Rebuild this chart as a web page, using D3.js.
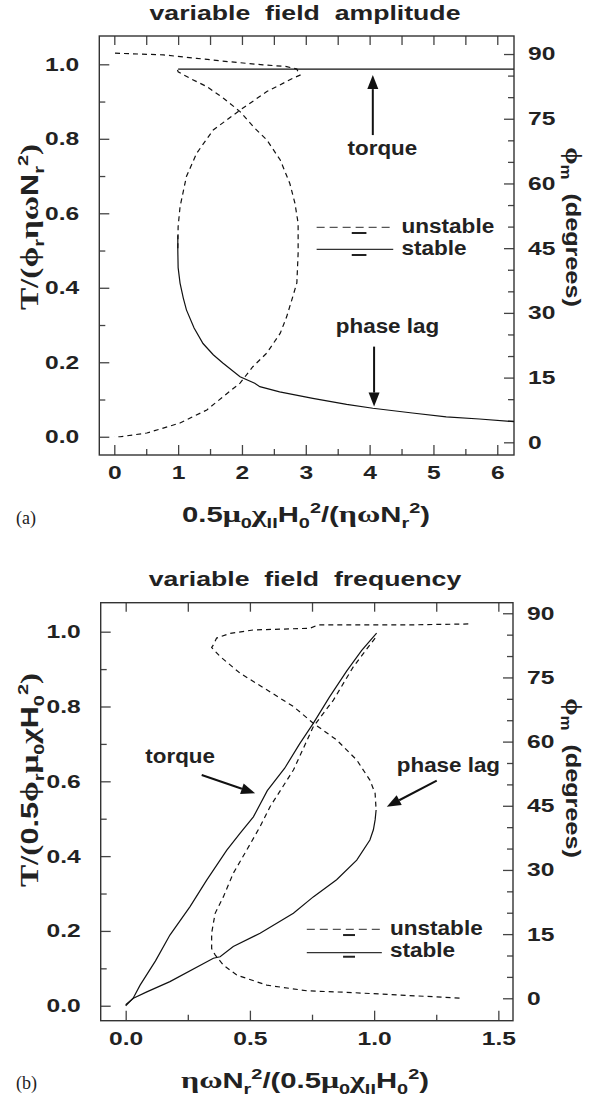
<!DOCTYPE html>
<html>
<head>
<meta charset="utf-8">
<script src="https://cdnjs.cloudflare.com/ajax/libs/d3/7.8.5/d3.min.js"></script>
<style>
  body { margin: 0; background: #fff; }
  text { font-family: "Liberation Sans", Arial, sans-serif; font-weight: bold; fill: #222; }
</style>
</head>
<body>
<div id="chart"></div>
<script>
// ---- data ----
// panel (a): x = 0.5 mu0 chi H0^2 / (eta omega Nr^2)
var ampTorqueStable = [[1.0,0.987],[2.0,0.987],[3.0,0.987],[4.0,0.987],[5.0,0.987],[6.26,0.987]];
var ampTorqueUnstable = [[0.99,0.985],[1.0,0.980],[1.19,0.962],[1.45,0.940],[1.71,0.909],[1.97,0.873],
    [2.18,0.832],[2.39,0.797],[2.60,0.743],[2.75,0.680],[2.83,0.627],[2.88,0.573],[2.88,0.493],
    [2.86,0.413],[2.78,0.367],[2.70,0.322],[2.60,0.278],[2.39,0.225],[2.17,0.188],[1.97,0.144],
    [1.70,0.107],[1.45,0.072],[1.03,0.037],[0.51,0.01],[0.09,0.0],[0.0,0.0]];
var ampPhaseStable = [[0.995,48.0],[0.995,44.5],[1.0,40.5],[1.03,36.9],[1.08,33.5],[1.13,30.7],
    [1.25,26.5],[1.39,22.9],[1.55,20.3],[1.70,18.4],[1.97,15.2],[2.20,13.7],[2.28,12.9],[2.59,11.7],
    [3.11,10.2],[3.64,8.8],[4.05,7.9],[4.67,6.8],[5.20,5.9],[5.72,5.4],[6.26,4.8]];
var ampPhaseUnstable = [[0.995,45],[1.0,50],[1.03,54.6],[1.13,61.6],[1.29,67.0],[1.55,72.4],[1.97,77.0],
    [2.39,81.3],[2.80,84.4],[2.91,85.1],[2.88,85.9],[2.86,86.5],[2.70,87.1],[2.33,87.5],[1.81,88.2],
    [1.29,89.0],[0.77,89.8],[0.0,90.2]];

// panel (b): x = eta omega Nr^2 / (0.5 mu0 chi H0^2)
var freqTorqueStable = [[0.0,0.0],[0.03,0.02],[0.058,0.055],[0.12,0.12],[0.178,0.189],[0.259,0.265],
    [0.326,0.336],[0.407,0.416],[0.46,0.461],[0.514,0.505],[0.57,0.575],[0.64,0.635],[0.70,0.70],
    [0.755,0.755],[0.82,0.825],[0.89,0.895],[0.95,0.95],[1.01,0.996]];
var freqTorqueUnstable = [[1.004,0.983],[0.916,0.906],[0.836,0.817],[0.755,0.746],[0.675,0.630],
    [0.581,0.532],[0.541,0.479],[0.487,0.416],[0.433,0.354],[0.393,0.291],[0.360,0.247],[0.346,0.194],
    [0.346,0.153],[0.360,0.136],[0.393,0.109],[0.447,0.082],[0.568,0.055],[0.729,0.040],[0.916,0.035],
    [1.091,0.029],[1.359,0.020]];
var freqPhaseStable = [[1.008,44.0],[1.004,41.7],[0.997,39.4],[0.983,37.0],[0.930,32.3],[0.849,27.7],
    [0.755,23.7],[0.675,19.9],[0.541,15.2],[0.433,12.1],[0.380,9.7],[0.353,9.35],[0.178,3.9],
    [0.085,1.5],[0.031,0.0],[0.0,-1.5]];
var freqPhaseUnstable = [[1.379,87.5],[1.158,87.3],[0.775,87.3],[0.742,86.5],[0.514,86.1],[0.420,85.3],
    [0.366,84.2],[0.353,82.6],[0.346,82.0],[0.380,79.9],[0.460,76.0],[0.568,72.1],[0.675,68.2],
    [0.755,64.3],[0.849,60.4],[0.930,55.7],[0.983,51.0],[1.004,47.9],[1.008,44.0]];

// tick labels
var ampXTicks = [0, 1, 2, 3, 4, 5, 6];
var freqXTicks = [0, 0.5, 1.0, 1.5];
var torqueTicks = [0, 0.2, 0.4, 0.6, 0.8, 1.0];
var degreeTicks = [0, 15, 30, 45, 60, 75, 90];

var SX = 1.33;   // the original lettering is drawn wide
var SERIF = "'Liberation Serif','DejaVu Serif',serif";

var svg = d3.select("#chart").append("svg")
    .attr("width", 604)
    .attr("height", 1100);

// text built from pieces: [string, kind] with kind n / g (greek) / sub / sup
function richText(px, py, rot, size, parts, sx) {
    var t = svg.append("text")
        .attr("transform", "translate(" + px + "," + py + ") rotate(" + rot + ") scale(" + sx + ",1)")
        .attr("text-anchor", "middle")
        .style("font-size", size + "px")
        .style("white-space", "pre");
    var shift = 0;
    parts.forEach(function(p) {
        var kind = p[1] || "n";
        var s = t.append("tspan").text(p[0]);
        var target = kind === "sub" ? size * 0.25 : kind === "sup" ? -size * 0.42 : 0;
        s.attr("dy", target - shift);
        shift = target;
        if (kind === "sub" || kind === "sup") s.style("font-size", Math.round(size * 0.66) + "px");
        if (kind === "g") s.style("font-family", SERIF).style("font-size", Math.round(size * 1.1) + "px");
    });
    return t;
}

function stretch(sel) {
    sel.selectAll(".tick text").each(function() {
        var t = d3.select(this);
        var x = +t.attr("x") || 0;
        t.attr("x", x / SX).attr("transform", "scale(" + SX + ",1)");
    });
}

function arrow(x1, y1, x2, y2) {
    var dx = x2 - x1, dy = y2 - y1, L = Math.sqrt(dx * dx + dy * dy);
    var ux = dx / L, uy = dy / L, hl = 14, hw = 5.5;
    var bx = x2 - ux * hl, by = y2 - uy * hl;
    svg.append("line").attr("x1", x1).attr("y1", y1).attr("x2", bx).attr("y2", by)
        .attr("stroke", "#111").attr("stroke-width", 2);
    svg.append("path")
        .attr("d", "M" + x2 + "," + y2 + "L" + (bx - uy * hw) + "," + (by + ux * hw) +
             "L" + (bx + uy * hw) + "," + (by - ux * hw) + "Z")
        .attr("fill", "#111");
}

function panel(o) {
    var x = d3.scaleLinear().domain(o.xDomain).range([o.left, o.right]);
    var y = d3.scaleLinear().domain(o.yDomain).range([o.bottom, o.top]);
    var yr = d3.scaleLinear().domain(o.rDomain).range([o.bottom, o.top]);
    var g = svg.append("g");

    function ticks(axis, tx, ty, vals, len) {
        var a = g.append("g").attr("transform", "translate(" + tx + "," + ty + ")")
            .call(axis.tickValues(vals).tickSize(-len).tickFormat(""));
        a.select(".domain").remove();
        a.selectAll("line").attr("stroke", "#444").attr("stroke-width", 1.3);
    }
    function labels(axis, tx, ty, vals, pad, fmt) {
        var a = g.append("g").attr("transform", "translate(" + tx + "," + ty + ")")
            .call(axis.tickValues(vals).tickSize(0).tickPadding(pad).tickFormat(fmt));
        a.select(".domain").remove();
        a.selectAll("text").style("font-size", "18.5px").style("font-family", null).attr("fill", "#222");
        stretch(a);
    }

    // ticks, all pointing inwards
    ticks(d3.axisBottom(x), 0, o.bottom, o.xTicks, 10);
    ticks(d3.axisBottom(x), 0, o.bottom, o.xMinor, 6);
    ticks(d3.axisTop(x), 0, o.top, o.xTicks.concat(o.xMinor), 9);
    ticks(d3.axisLeft(y), o.left, 0, torqueTicks, 10);
    ticks(d3.axisLeft(y), o.left, 0, d3.range(0.1, 1.05, 0.2), 6);
    ticks(d3.axisRight(yr), o.right, 0, degreeTicks, 10);
    ticks(d3.axisRight(yr), o.right, 0, d3.range(5, 95, 5).filter(function(d) { return d % 15; }), 6);

    labels(d3.axisBottom(x), 0, o.bottom, o.xTicks, 11, o.xFormat);
    labels(d3.axisLeft(y), o.left, 0, torqueTicks, 20, d3.format(".1f"));
    labels(d3.axisRight(yr), o.right, 0, degreeTicks, 14, d3.format("d"));

    // frame
    g.append("rect")
        .attr("x", o.left).attr("y", o.top)
        .attr("width", o.right - o.left).attr("height", o.bottom - o.top)
        .attr("fill", "none").attr("stroke", "#333").attr("stroke-width", 1.4);

    var lineL = d3.line().x(function(d) { return x(d[0]); }).y(function(d) { return y(d[1]); });
    var lineR = d3.line().x(function(d) { return x(d[0]); }).y(function(d) { return yr(d[1]); });

    o.curves.forEach(function(c) {
        g.append("path")
            .datum(c.data)
            .attr("d", c.axis === "deg" ? lineR : lineL)
            .attr("fill", "none")
            .attr("stroke", "#111")
            .attr("stroke-width", 1.2)
            .attr("stroke-dasharray", c.dashed ? "5,4" : null);
    });

    // legend
    var L = o.legend;
    g.append("line").attr("x1", x(L.x0)).attr("x2", x(L.x1)).attr("y1", y(L.yDash)).attr("y2", y(L.yDash))
        .attr("stroke", "#555").attr("stroke-width", 1.3).attr("stroke-dasharray", "8,5");
    g.append("line").attr("x1", x(L.x0)).attr("x2", x(L.x1)).attr("y1", y(L.ySolid)).attr("y2", y(L.ySolid))
        .attr("stroke", "#333").attr("stroke-width", 1.3);
    [L.yText1, L.yText2].forEach(function(v) {
        g.append("line").attr("x1", x(L.bar0)).attr("x2", x(L.bar1)).attr("y1", y(v)).attr("y2", y(v))
            .attr("stroke", "#222").attr("stroke-width", 2);
    });
    richText(x(L.xText), y(L.yText1), 0, 20.5, [["unstable"]], 1.1).attr("text-anchor", "start");
    richText(x(L.xText), y(L.yText2), 0, 20.5, [["stable"]], 1.1).attr("text-anchor", "start");

    // annotations
    o.notes.forEach(function(n) {
        richText(x(n.tx), y(n.ty), 0, 20, [[n.text]], 1.12);
        arrow(x(n.a[0]), y(n.a[1]), x(n.a[2]), y(n.a[3]));
    });
}

// ---------- panel (a) ----------
panel({
    left: 99.3, right: 514, top: 36, bottom: 455,
    xDomain: [-0.235, 6.262], yDomain: [-0.049, 1.076], rDomain: [-2.94, 94.18],
    xTicks: ampXTicks, xMinor: d3.range(0.5, 6.2, 1), xFormat: d3.format("d"),
    curves: [
        {data: ampPhaseUnstable, axis: "deg", dashed: true},
        {data: ampTorqueUnstable, axis: "T", dashed: true},
        {data: ampTorqueStable, axis: "T", dashed: false},
        {data: ampPhaseStable, axis: "deg", dashed: false}
    ],
    legend: {x0: 3.17, x1: 4.37, yDash: 0.562, ySolid: 0.503, xText: 4.5, yText1: 0.547, yText2: 0.488,
             bar0: 3.72, bar1: 3.95},
    notes: [
        {text: "torque", tx: 4.2, ty: 0.756, a: [4.05, 0.81, 4.05, 0.971]},
        {text: "phase lag", tx: 4.28, ty: 0.278, a: [4.07, 0.242, 4.07, 0.081]}
    ]
});

// ---------- panel (b) ----------
panel({
    left: 100.7, right: 513, top: 602.7, bottom: 1020.7,
    xDomain: [-0.1006, 1.559], yDomain: [-0.040, 1.0775], rDomain: [-5.24, 92.47],
    xTicks: freqXTicks, xMinor: [0.25, 0.75, 1.25], xFormat: d3.format(".1f"),
    curves: [
        {data: freqPhaseUnstable, axis: "deg", dashed: true},
        {data: freqTorqueUnstable, axis: "T", dashed: true},
        {data: freqTorqueStable, axis: "T", dashed: false},
        {data: freqPhaseStable, axis: "deg", dashed: false}
    ],
    legend: {x0: 0.729, x1: 1.031, yDash: 0.204, ySolid: 0.142, xText: 1.064, yText1: 0.189, yText2: 0.131,
             bar0: 0.875, bar1: 0.923},
    notes: [
        {text: "torque", tx: 0.219, ty: 0.648, a: [0.306, 0.617, 0.521, 0.568]},
        {text: "phase lag", tx: 1.299, ty: 0.626, a: [1.252, 0.602, 1.051, 0.532]}
    ]
});

// ---------- titles and axis names ----------
richText(305, 20, 0, 20.5, [["variable  field  amplitude"]], 1.3);
richText(305, 586, 0, 20.5, [["variable  field  frequency"]], 1.3);

richText(306, 522, 0, 22, [["0.5"], ["μ", "g"], ["0", "sub"], ["χ", "g"], ["II", "sub"], ["H"], ["0", "sub"],
    ["2", "sup"], ["/("], ["ηω", "g"], ["N"], ["r", "sub"], ["2", "sup"], [")"]], SX);
richText(305, 1088, 0, 22, [["ηω", "g"], ["N"], ["r", "sub"], ["2", "sup"], ["/(0.5"], ["μ", "g"], ["0", "sub"],
    ["χ", "g"], ["II", "sub"], ["H"], ["0", "sub"], ["2", "sup"], [")"]], SX);

richText(38, 227, -90, 23, [["T/(", "g"], ["ϕ", "g"], ["r", "sub"], ["ηω", "g"], ["N"], ["r", "sub"],
    ["2", "sup"], [")", "g"]], SX);
richText(38, 780, -90, 23, [["T/(", "g"], ["0.5"], ["ϕ", "g"], ["r", "sub"], ["μ", "g"], ["0", "sub"],
    ["χ", "g"], ["H"], ["0", "sub"], ["2", "sup"], [")", "g"]], SX);

richText(566, 227, 90, 21, [["ϕ", "g"], ["m", "sub"], ["  (degrees)"]], 1.2);
richText(566, 778, 90, 21, [["ϕ", "g"], ["m", "sub"], ["  (degrees)"]], 1.2);

// panel tags
svg.append("text").attr("x", 16).attr("y", 524).style("font-family", SERIF).style("font-weight", "normal")
    .style("font-size", "18px").text("(a)");
svg.append("text").attr("x", 16).attr("y", 1089).style("font-family", SERIF).style("font-weight", "normal")
    .style("font-size", "18px").text("(b)");
</script>
</body>
</html>
